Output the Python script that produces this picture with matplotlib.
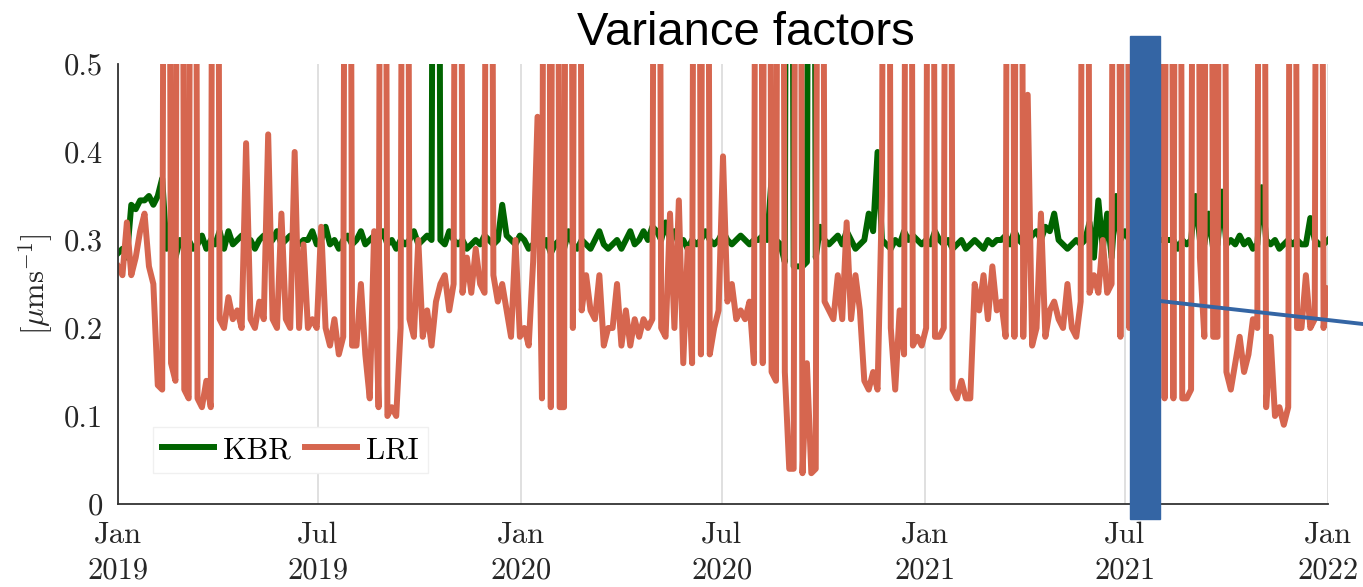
import pandas as pd
import matplotlib
matplotlib.use("Agg")
import matplotlib.pyplot as plt
from matplotlib.patches import Rectangle
from matplotlib.lines import Line2D

plt.rcParams['font.family'] = 'serif'
plt.rcParams['font.serif'] = ['cmr10', 'DejaVu Serif']
plt.rcParams['mathtext.fontset'] = 'cm'
plt.rcParams['axes.formatter.use_mathtext'] = True

# samples every 4 days, Jan 2019 .. Jan 2022
dates = pd.date_range('2019-01-01', '2022-01-01', freq='4D')

kbr = [
    0.285, 0.29, 0.28, 0.34, 0.335, 0.345, 0.345, 0.35, 0.34, 0.35,
    0.37, 0.29, 0.30, 0.28, 0.30, 0.295, 0.30, 0.29, 0.295, 0.305,
    0.29, 0.30, 0.295, 0.31, 0.29, 0.31, 0.295, 0.30, 0.305, 0.295,
    0.30, 0.29, 0.30, 0.305, 0.295, 0.30, 0.31, 0.295, 0.30, 0.305,
    0.30, 0.295, 0.30, 0.30, 0.31, 0.295, 0.30, 0.315, 0.295, 0.30,
    0.29, 0.30, 0.305, 0.295, 0.30, 0.31, 0.295, 0.30, 0.305, 0.30,
    0.31, 0.295, 0.30, 0.29, 0.30, 0.295, 0.30, 0.31, 0.295, 0.30,
    0.305, 0.30, 2.0, 0.30, 0.295, 0.31, 0.30, 0.295, 0.30, 0.29,
    0.295, 0.30, 0.295, 0.305, 0.30, 0.295, 0.30, 0.34, 0.305, 0.30,
    0.295, 0.305, 0.30, 0.29, 0.295, 0.30, 0.29, 0.30, 0.285, 0.295,
    0.30, 0.29, 0.31, 0.295, 0.29, 0.30, 0.295, 0.29, 0.30, 0.31,
    0.295, 0.29, 0.295, 0.30, 0.29, 0.30, 0.31, 0.295, 0.30, 0.31,
    0.30, 0.315, 0.31, 0.30, 0.32, 0.30, 0.31, 0.295, 0.30, 0.29,
    0.30, 0.295, 0.30, 0.31, 0.30, 0.295, 0.30, 0.31, 0.30, 0.295,
    0.30, 0.305, 0.30, 0.295, 0.30, 0.30, 0.305, 0.30, 0.37, 0.30,
    0.295, 0.275, 2.0, 0.27, 0.27, 0.27, 0.275, 2.0, 0.28, 0.315,
    0.30, 0.295, 0.30, 0.305, 0.295, 0.31, 0.30, 0.29, 0.295, 0.30,
    0.33, 0.31, 0.40, 0.30, 0.295, 0.29, 0.30, 0.295, 0.31, 0.30,
    0.305, 0.30, 0.295, 0.30, 0.295, 0.31, 0.30, 0.295, 0.30, 0.29,
    0.295, 0.30, 0.29, 0.295, 0.30, 0.295, 0.29, 0.30, 0.295, 0.30,
    0.30, 0.305, 0.295, 0.31, 0.30, 0.295, 0.30, 0.305, 0.31, 0.30,
    0.315, 0.31, 0.33, 0.30, 0.295, 0.29, 0.295, 0.30, 0.295, 0.30,
    0.32, 0.28, 0.345, 0.29, 0.33, 0.28, 0.35, 0.30, 0.31, 0.30,
    0.30, 0.30, 0.30, 0.30, 0.30, 0.30, 0.30, 0.30, 0.30, 0.30,
    0.29, 0.30, 0.295, 0.30, 0.35, 0.30, 0.295, 0.33, 0.29, 0.295,
    0.355, 0.295, 0.30, 0.295, 0.305, 0.295, 0.30, 0.29, 0.295, 0.36,
    0.30, 0.295, 0.30, 0.29, 0.295, 0.30, 0.295, 0.30, 0.295, 0.295,
    0.325, 0.30, 0.295, 0.295, 0.30,
]

lri = [
    0.27, 0.26, 0.32, 0.26, 0.28, 0.31, 0.33, 0.27, 0.25, 0.135,
    0.13, 2.0, 0.16, 0.14, 2.0, 0.13, 0.12, 2.0, 0.12, 0.11,
    0.14, 0.11, 2.0, 0.21, 0.20, 0.235, 0.21, 0.22, 0.20, 0.41,
    0.21, 0.20, 0.23, 0.21, 0.42, 0.21, 0.20, 0.33, 0.21, 0.20,
    0.40, 0.20, 0.295, 0.20, 0.21, 0.20, 0.315, 0.20, 0.18, 0.21,
    0.17, 0.19, 2.0, 0.18, 0.18, 0.25, 0.17, 0.12, 0.31, 0.11,
    2.0, 0.10, 0.11, 0.10, 0.20, 2.0, 0.21, 0.19, 0.30, 0.19,
    0.22, 0.18, 0.23, 0.25, 0.26, 0.22, 0.25, 2.0, 0.24, 0.28,
    0.24, 0.29, 0.25, 0.24, 2.0, 0.26, 0.23, 0.25, 0.22, 0.19,
    0.30, 0.19, 0.20, 0.18, 0.275, 0.44, 0.12, 2.0, 0.11, 2.0,
    0.11, 0.11, 2.0, 0.20, 2.0, 0.22, 0.26, 0.22, 0.21, 0.26,
    0.18, 0.20, 0.20, 0.25, 0.18, 0.22, 0.18, 0.21, 0.19, 0.21,
    0.20, 0.21, 2.0, 0.20, 0.19, 0.33, 0.20, 0.345, 0.16, 0.29,
    0.16, 2.0, 0.17, 2.0, 0.17, 0.20, 0.22, 0.395, 0.23, 0.25,
    0.21, 0.22, 0.21, 0.23, 0.16, 2.0, 0.16, 2.0, 0.15, 0.14,
    2.0, 0.15, 0.04, 0.04, 2.0, 0.035, 0.16, 0.035, 0.04, 2.0,
    0.23, 0.22, 0.21, 0.26, 0.21, 0.32, 0.21, 0.26, 0.22, 0.14,
    0.13, 0.15, 0.13, 0.35, 2.0, 0.20, 0.13, 0.22, 0.17, 2.0,
    0.18, 0.19, 0.18, 0.20, 2.0, 0.19, 0.19, 0.20, 2.0, 0.13,
    0.12, 0.14, 0.12, 0.12, 0.25, 0.22, 0.26, 0.21, 0.27, 0.22,
    0.23, 0.19, 2.0, 0.19, 2.0, 0.19, 0.465, 0.18, 0.20, 0.33,
    0.19, 0.22, 0.23, 0.21, 0.20, 0.25, 0.20, 0.19, 0.23, 2.0,
    0.24, 0.26, 0.24, 0.30, 0.24, 0.25, 2.0, 0.19, 2.0, 0.20,
    2.0, 0.15, 2.0, 0.15, 2.0, 0.13, 2.0, 0.12, 2.0, 0.12,
    2.0, 0.12, 0.12, 0.13, 2.0, 0.28, 0.19, 2.0, 0.19, 0.19,
    2.0, 0.15, 0.13, 0.16, 0.19, 0.15, 0.17, 0.21, 0.20, 2.0,
    0.11, 0.19, 0.10, 0.11, 0.09, 0.11, 2.0, 0.20, 0.20, 0.26,
    0.20, 0.21, 2.0, 0.20, 0.245,
]

tick_dates = pd.to_datetime(['2019-01-01', '2019-07-01', '2020-01-01', '2020-07-01',
                             '2021-01-01', '2021-07-01', '2022-01-01'])
tick_labels = ['Jan\n2019', 'Jul\n2019', 'Jan\n2020', 'Jul\n2020',
               'Jan\n2021', 'Jul\n2021', 'Jan\n2022']
y_ticks = [0, 0.1, 0.2, 0.3, 0.4, 0.5]
y_labels = ['0', '0.1', '0.2', '0.3', '0.4', '0.5']

fig = plt.figure(figsize=(13.63, 5.87), dpi=100)
ax = fig.add_axes([0.0866, 0.1414, 0.8877, 0.7496])

ax.plot(dates, kbr, color='#006400', lw=4.3, label='KBR')
ax.plot(dates, lri, color='#d6664f', lw=4.3, label='LRI')

ax.set_xlim(tick_dates[0], tick_dates[-1])
ax.set_ylim(0, 0.5)
ax.set_xticks(tick_dates)
ax.set_xticklabels(tick_labels, fontsize=22, color='#262626', linespacing=1.4)
ax.set_yticks(y_ticks)
ax.set_yticklabels(y_labels, fontsize=22, color='#262626')
ax.tick_params(axis='both', length=0)
ax.tick_params(axis='x', pad=12)
ax.tick_params(axis='y', pad=11)
ax.grid(axis='x', color='#dddddd', lw=1.3)
ax.set_axisbelow(True)
for s in ['top', 'right']:
    ax.spines[s].set_visible(False)
for s in ['left', 'bottom']:
    ax.spines[s].set_color('#333333')
    ax.spines[s].set_linewidth(1.3)

ax.set_ylabel(r'$[\mu\mathrm{ms}^{-1}]$', fontsize=22, color='#262626', labelpad=6)

leg = ax.legend(loc='lower left', bbox_to_anchor=(0.029, 0.07), borderaxespad=0,
                ncol=2, fontsize=22, handlelength=1.7, handletextpad=0.3,
                columnspacing=0.45, borderpad=0.3, fancybox=False, framealpha=1)
leg.get_frame().set_edgecolor('#f0f0f0')
leg.get_frame().set_linewidth(1.0)

fig.text(0.547, 0.923, 'Variance factors', family='Liberation Sans',
         fontsize=34, ha='center', va='baseline', color='black')

# blue overlay bar and line
fig.add_artist(Rectangle((1130 / 1363, 1 - 519 / 587), 30 / 1363, 483 / 587,
                         transform=fig.transFigure, color='#3465a4', zorder=10))
fig.add_artist(Line2D([1160 / 1363, 1.0], [1 - 301 / 587, 1 - 324 / 587],
                      transform=fig.transFigure, color='#3465a4', lw=2.8, zorder=10))

fig.savefig('out.png', dpi=100)
